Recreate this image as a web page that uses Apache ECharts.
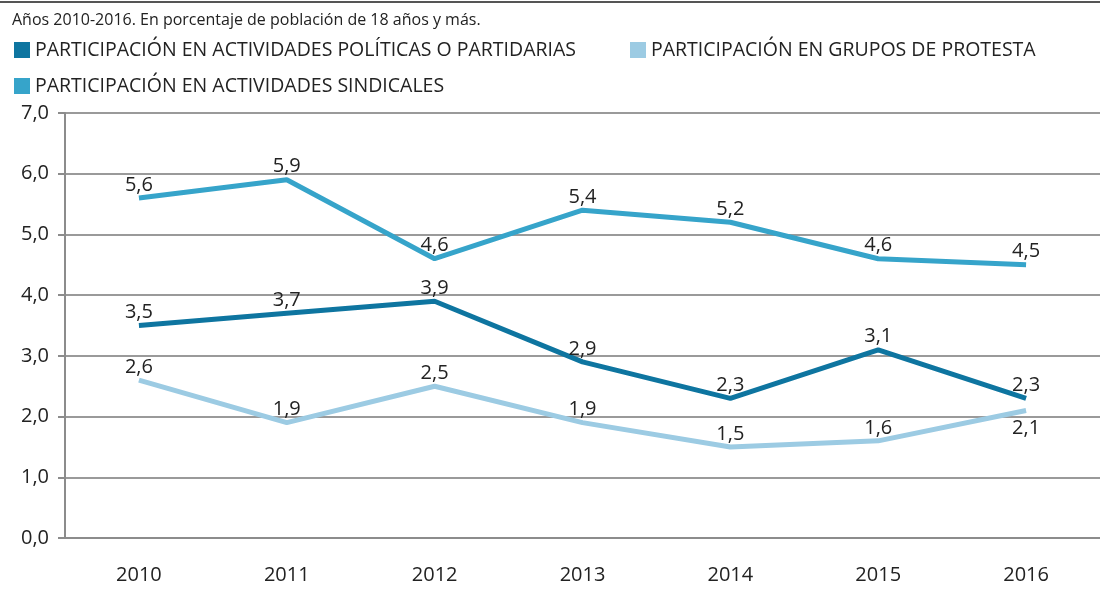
<!DOCTYPE html>
<html>
<head>
<meta charset="utf-8">
<script src="https://cdn.jsdelivr.net/npm/echarts@6/dist/echarts.min.js"></script>
<style>
  html, body { margin: 0; padding: 0; background: #fff; }
  #chart { width: 1100px; height: 595px; }
</style>
</head>
<body>
<div id="chart"></div>
<script>
var years = ['2010', '2011', '2012', '2013', '2014', '2015', '2016']
var politicas = [3.5, 3.7, 3.9, 2.9, 2.3, 3.1, 2.3]
var sindicales = [5.6, 5.9, 4.6, 5.4, 5.2, 4.6, 4.5]
var protesta = [2.6, 1.9, 2.5, 1.9, 1.5, 1.6, 2.1]

var names = [
  'PARTICIPACIÓN EN ACTIVIDADES POLÍTICAS O PARTIDARIAS',
  'PARTICIPACIÓN EN GRUPOS DE PROTESTA',
  'PARTICIPACIÓN EN ACTIVIDADES SINDICALES'
]
var colors = ['#0e75a0', '#9ccbe3', '#36a4ca']
var font = '"Open Sans", Lato, sans-serif'

function fmt(p) {
  return p.value.toFixed(1).replace('.', ',')
}

var legendText = { color: '#222', fontSize: 19.5, fontFamily: font }
var dataLabel = { show: true, position: 'top', distance: 3, color: '#222', fontSize: 20, fontFamily: font, formatter: fmt }

var chart = echarts.init(document.getElementById('chart'))
chart.setOption({
  animation: false,
  color: colors,
  title: {
    text: 'Años 2010-2016. En porcentaje de población de 18 años y más.',
    left: 7,
    top: 7,
    textStyle: { color: '#222', fontSize: 16, fontWeight: 'normal', fontFamily: font }
  },
  graphic: [{
    type: 'line',
    shape: { x1: 0, y1: 2, x2: 1100, y2: 2 },
    style: { stroke: '#555', lineWidth: 2 }
  }],
  legend: [{
    data: [names[0], names[1]],
    left: 9,
    top: 35,
    icon: 'rect',
    itemWidth: 16,
    itemHeight: 16,
    itemGap: 54,
    textStyle: legendText
  }, {
    data: [names[2]],
    left: 9,
    top: 71,
    icon: 'rect',
    itemWidth: 16,
    itemHeight: 16,
    textStyle: legendText
  }],
  grid: { left: 65, top: 113, width: 1045, height: 425 },
  xAxis: {
    type: 'category',
    data: years,
    boundaryGap: true,
    axisLine: { lineStyle: { color: '#8c8c8c', width: 2 } },
    axisTick: { length: 8, lineStyle: { color: '#8c8c8c', width: 2 } },
    axisLabel: { color: '#222', fontSize: 20, fontFamily: font, margin: 27 }
  },
  yAxis: {
    type: 'value',
    min: 0,
    max: 7,
    interval: 1,
    axisLine: { show: true, lineStyle: { color: '#8c8c8c', width: 2 } },
    axisTick: { show: true, length: 7, lineStyle: { color: '#8c8c8c', width: 2 } },
    splitLine: { lineStyle: { color: '#9a9a9a', width: 2 } },
    axisLabel: {
      color: '#222', fontSize: 20, fontFamily: font, margin: 16,
      formatter: function (v) { return v.toFixed(1).replace('.', ',') }
    }
  },
  series: [{
    name: names[0],
    type: 'line',
    data: politicas,
    symbol: 'circle',
    symbolSize: 0,
    lineStyle: { width: 5 },
    label: dataLabel
  }, {
    name: names[1],
    type: 'line',
    data: protesta.map(function (v, i) {
      return i === protesta.length - 1 ? { value: v, label: { position: 'bottom', distance: 8 } } : v
    }),
    symbol: 'circle',
    symbolSize: 0,
    lineStyle: { width: 5 },
    label: dataLabel
  }, {
    name: names[2],
    type: 'line',
    data: sindicales,
    symbol: 'circle',
    symbolSize: 0,
    lineStyle: { width: 5 },
    label: dataLabel
  }]
})
</script>
</body>
</html>
